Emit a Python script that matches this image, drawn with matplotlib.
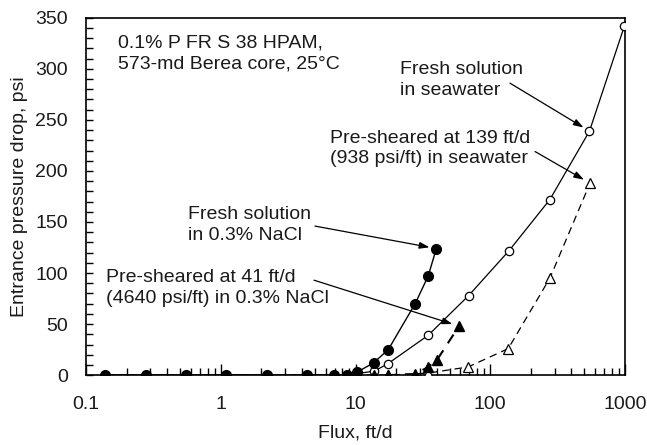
import matplotlib
matplotlib.use("Agg")
import matplotlib.pyplot as plt
from matplotlib.ticker import LogLocator, MultipleLocator, FixedLocator, FixedFormatter

plt.rcParams["font.family"] = ["Liberation Sans", "DejaVu Sans"]

# =========================
# DATA
# =========================

# fresh solution in 0.3% NaCl (filled circles)
flux_fresh_nacl = [0.138, 0.277, 0.553, 1.1, 2.2, 4.4, 6.9, 8.65, 10.3, 13.6, 17.5, 27.7, 34.6, 39.8]
dp_fresh_nacl = [0, 0, 0, 0, 0, 0, 0, 0, 3, 12, 25, 70, 97, 124]

# fresh solution in seawater (open circles)
flux_fresh_sea = [0.138, 0.277, 0.553, 1.1, 2.2, 4.4, 8.65, 13.8, 17.3, 34.6, 69.2, 138, 277, 545, 990]
dp_fresh_sea = [0, 0, 0, 0, 0, 0, 0, 4, 11, 39, 78, 122, 172, 239, 342]

# pre-sheared at 41 ft/d in 0.3% NaCl (filled triangles)
flux_shear_nacl = [0.138, 0.277, 0.553, 1.1, 2.2, 4.4, 6.9, 8.65, 13.8, 17.3, 27.7, 34.6, 40.3, 58.6]
dp_shear_nacl = [0, 0, 0, 0, 0, 0, 0, 0, 0, 0, 1, 8, 15, 48]

# pre-sheared at 139 ft/d in seawater (open triangles)
flux_shear_sea = [0.138, 0.277, 0.553, 1.1, 2.2, 4.4, 8.65, 17.3, 34.6, 68.4, 136, 277, 550]
dp_shear_sea = [0, 0, 0, 0, 0, 0, 0, 0, 2, 8, 26, 95, 188]

# =========================
# FIGURE
# =========================

fig = plt.figure(figsize=(6.47, 4.45), dpi=100)
ax = fig.add_axes([0.133, 0.157, 0.833, 0.803])

fs = 14
txt = "#1a1a1a"

ax.plot(flux_shear_sea, dp_shear_sea, color="black", lw=0.9, ls=(0, (6, 4)),
        marker="^", ms=6.5, mfc="white", mec="black", mew=0.9, zorder=3)
ax.plot(flux_fresh_sea, dp_fresh_sea, color="black", lw=0.9, ls="-",
        marker="o", ms=6, mfc="white", mec="black", mew=0.9, zorder=4)
ax.plot(flux_shear_nacl, dp_shear_nacl, color="black", lw=1.5, ls=(0, (5, 4)),
        marker="^", ms=7.5, mfc="black", mec="black", zorder=5)
ax.plot(flux_fresh_nacl, dp_fresh_nacl, color="black", lw=1.0, ls="-",
        marker="o", ms=7, mfc="black", mec="black", zorder=6)

ax.set_xscale("log")
ax.set_xlim(0.1, 1000)
ax.set_ylim(0, 350)

ax.xaxis.set_major_locator(FixedLocator([0.1, 1, 10, 100, 1000]))
ax.xaxis.set_major_formatter(FixedFormatter(["0.1", "1", "10", "100", "1000"]))
ax.xaxis.set_minor_locator(LogLocator(base=10, subs=range(2, 10), numticks=20))
ax.yaxis.set_major_locator(MultipleLocator(50))
ax.yaxis.set_minor_locator(MultipleLocator(10))

ax.tick_params(axis="both", which="both", direction="in", color="black", width=1,
               labelcolor=txt)
ax.tick_params(axis="x", which="major", length=8, pad=15, labelsize=fs)
ax.tick_params(axis="x", which="minor", length=5)
ax.tick_params(axis="y", which="major", length=5, pad=13, labelsize=fs)
ax.tick_params(axis="y", which="minor", length=5)

for side in ax.spines.values():
    side.set_linewidth(1.2)

ax.set_xlabel("Flux, ft/d", fontsize=fs, labelpad=8, color=txt)
ax.set_ylabel("Entrance pressure drop, psi", fontsize=fs, labelpad=5, color=txt)

# =========================
# ANNOTATIONS
# =========================

lbl = dict(fontsize=fs, va="center", ha="left", linespacing=1.3, color=txt)
arrow = dict(arrowstyle="-|>,head_length=0.6,head_width=0.2", color="black", lw=0.9,
             shrinkA=0, shrinkB=5)

ax.text(0.173, 315, "0.1% P FR S 38 HPAM,\n573-md Berea core, 25°C", **lbl)

ax.text(21.4, 289, "Fresh solution\nin seawater", **lbl)
ax.annotate("", xy=(545, 239), xytext=(140, 286), arrowprops=arrow)

ax.text(6.47, 222, "Pre-sheared at 139 ft/d\n(938 psi/ft) in seawater", **lbl)
ax.annotate("", xy=(550, 188), xytext=(215, 219), arrowprops=arrow)

ax.text(0.571, 147, "Fresh solution\nin 0.3% NaCl", **lbl)
ax.annotate("", xy=(39.8, 124), xytext=(5.0, 146), arrowprops=arrow)

ax.text(0.1407, 85, "Pre-sheared at 41 ft/d\n(4640 psi/ft) in 0.3% NaCl", **lbl)
ax.annotate("", xy=(58.6, 48), xytext=(4.92, 93), arrowprops=arrow)

plt.savefig("out.png", dpi=100)
